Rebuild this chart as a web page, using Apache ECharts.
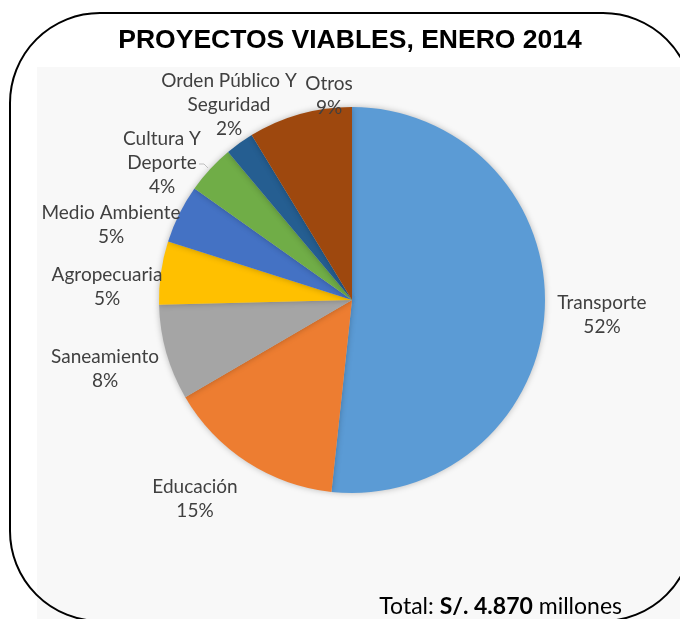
<!DOCTYPE html>
<html>
<head>
<meta charset="utf-8">
<script src="https://cdn.jsdelivr.net/npm/echarts@6/dist/echarts.min.js"></script>
<style>
html,body{margin:0;padding:0;background:#fff;}
#c{width:680px;height:619px;}
</style>
</head>
<body>
<div id="c"></div>
<script>
var titleText = 'PROYECTOS VIABLES, ENERO 2014';
var categories = ['Transporte', 'Educación', 'Saneamiento', 'Agropecuaria', 'Medio Ambiente', 'Cultura Y\nDeporte', 'Orden Público Y\nSeguridad', 'Otros'];
var values = [51.7, 14.9, 8.0, 5.3, 4.9, 4.1, 2.4, 8.7];
var colors = ['#5B9BD5', '#ED7D31', '#A5A5A5', '#FFC000', '#4472C4', '#70AD47', '#255E91', '#9E480E'];
var totalPrefix = 'Total: ';
var totalAmount = 'S/. 4.870';
var totalSuffix = ' millones';

// label anchor positions (centres of label blocks), styling only
var labelPos = [[602, 315], [195, 499], [105, 369], [107, 287], [111, 225], [162, 163], [229, 105], [329, 96]];

var chart = echarts.init(document.getElementById('c'), null, {renderer: 'canvas'});
var data = categories.map(function (c, i) {
  return {name: c, value: values[i], itemStyle: {color: colors[i]}};
});
chart.setOption({
  animation: false,
  backgroundColor: '#ffffff',
  graphic: [
    {type: 'rect', z: 0, shape: {x: 37, y: 67, width: 660, height: 560}, style: {fill: '#f8f8f8'}},
    {type: 'rect', z: 100, shape: {x: 10, y: 13, width: 683, height: 608, r: 90}, style: {fill: 'none', stroke: '#000', lineWidth: 2}},
    {type: 'text', z: 100, x: 350, y: 41, style: {text: titleText, fill: '#000', font: 'bold 26.5px "Liberation Sans", Arial, sans-serif', align: 'center', verticalAlign: 'middle'}},
    {type: 'text', z: 100, x: 622, y: 607, style: {
      text: '{a|' + totalPrefix + '}{b|' + totalAmount + '}{a|' + totalSuffix + '}',
      align: 'right', verticalAlign: 'middle',
      rich: {
        a: {fontSize: 23, fontFamily: 'Lato', color: '#111'},
        b: {fontSize: 23, fontFamily: 'Lato', fontWeight: 'bold', color: '#111'}
      }
    }},
    {type: 'polyline', z: 100, shape: {points: [[199, 164], [204, 164], [208, 168]]}, style: {stroke: '#bfbfbf', lineWidth: 1, fill: 'none'}}
  ],
  series: [{
    type: 'pie',
    center: [352, 300],
    radius: 193,
    startAngle: 90,
    clockwise: true,
    data: data,
    itemStyle: {shadowBlur: 6, shadowColor: 'rgba(0,0,0,0.25)'},
    label: {
      show: true,
      position: 'outside',
      formatter: function (p) { return p.name + '\n' + Math.round(p.percent) + '%'; },
      fontFamily: 'Lato',
      fontSize: 19,
      lineHeight: 24,
      color: '#404040',
      align: 'center',
      overflow: 'none'
    },
    labelLine: {show: false},
    labelLayout: function (p) {
      var pos = labelPos[p.dataIndex];
      return {x: pos[0], y: pos[1], align: 'center', verticalAlign: 'middle'};
    },
    emphasis: {disabled: true}
  }]
});
</script>
</body>
</html>
